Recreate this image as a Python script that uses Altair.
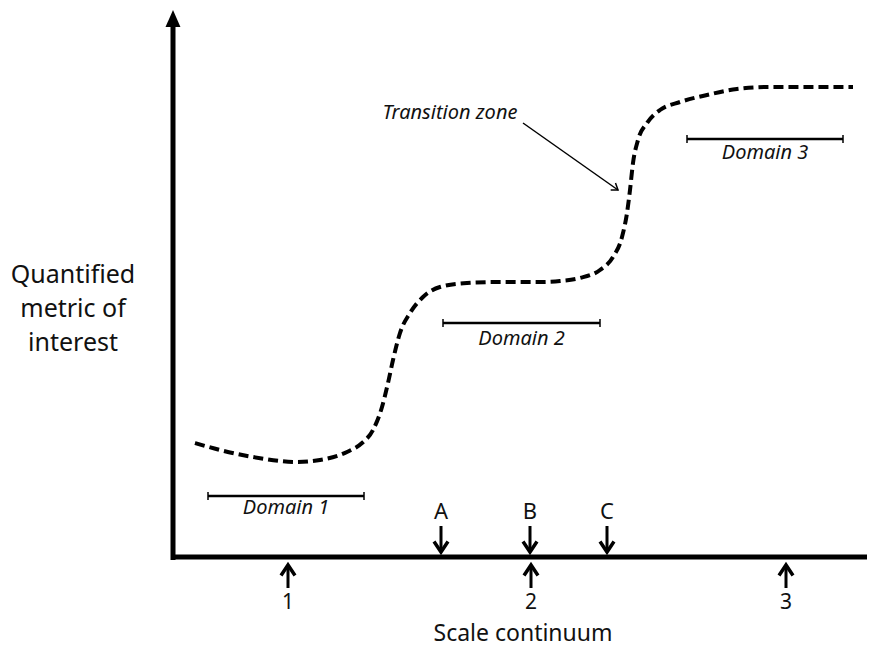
import altair as alt
import pandas as pd

# ---- data (units: position along the scale continuum / metric value, origin at axis corner)
curve_x = [21, 46, 79, 123, 146, 173, 188, 199, 208, 214, 219, 226, 236, 249, 266, 293, 326, 366,
           386, 406, 426, 439, 448, 453, 456, 459, 464, 473, 486, 506, 533, 563, 596, 636, 679]
curve_y = [114, 107, 100, 95, 97, 105, 114, 127, 150, 174, 197, 224, 244, 260, 270, 274, 275, 275,
           276, 279, 287, 300, 320, 344, 367, 394, 417, 434, 447, 455, 462, 468, 470, 470, 470]

domain_names = ["Domain 1", "Domain 2", "Domain 3"]
domain_start = [34, 269, 513]
domain_end = [190, 426, 669]
domain_level = [61, 234, 418]
domain_label_y = [49, 218, 404]

scale_labels = ["1", "2", "3"]
scale_pos = [114, 357, 612]

point_labels = ["A", "B", "C"]
point_pos = [267, 356, 433]

ylabel_lines = ["Quantified", "metric of", "interest"]
ylabel_y = [282, 248, 214]

FONT = "Noto Sans"
XS = alt.Scale(domain=[-166, 693], nice=False, zero=False)
YS = alt.Scale(domain=[-89, 549], nice=False, zero=False)


def X(f):
    return alt.X(f, type="quantitative", scale=XS, axis=None)


def Y(f):
    return alt.Y(f, type="quantitative", scale=YS, axis=None)


# curve
df_curve = pd.DataFrame({"x": curve_x, "y": curve_y})
curve = alt.Chart(df_curve).mark_line(
    color="black", strokeWidth=4, strokeDash=[10, 5], interpolate="monotone"
).encode(x=X("x"), y=Y("y"))

# axes
df_axes = pd.DataFrame({"x": [-1, -3], "y": [-3, 0], "x2": [-1, 695], "y2": [531, 0]})
axes = alt.Chart(df_axes).mark_rule(color="black", strokeWidth=5, strokeCap="butt").encode(
    x=X("x"), y=Y("y"), x2="x2", y2="y2"
)
df_heads = pd.DataFrame({
    "x": [-1, 703.5], "y": [538.5, 0],
    "path": ["M -0.88 1 L 0 -1 L 0.88 1 Z", "M -1 -0.88 L 1 0 L -1 0.88 Z"],
})
heads = alt.Chart(df_heads).mark_point(filled=True, color="black", size=289, opacity=1).encode(
    x=X("x"), y=Y("y"), shape=alt.Shape("path:N", scale=None)
)

# domain bars
df_dom = pd.DataFrame({
    "name": domain_names, "start": domain_start, "end": domain_end,
    "level": domain_level, "ly": domain_label_y,
})
df_dom["mid"] = (df_dom["start"] + df_dom["end"]) / 2
df_dom["lo"] = df_dom["level"] - 4
df_dom["hi"] = df_dom["level"] + 4
bars = alt.Chart(df_dom).mark_rule(color="black", strokeWidth=2.5).encode(
    x=X("start"), x2="end", y=Y("level")
)
ends_l = alt.Chart(df_dom).mark_rule(color="black", strokeWidth=1.5).encode(
    x=X("start"), y=Y("lo"), y2="hi"
)
ends_r = alt.Chart(df_dom).mark_rule(color="black", strokeWidth=1.5).encode(
    x=X("end"), y=Y("lo"), y2="hi"
)
dom_text = alt.Chart(df_dom).mark_text(
    font=FONT, fontSize=20, fontStyle="italic", color="#111", baseline="middle"
).encode(x=X("mid"), y=Y("ly"), text="name:N")

# transition zone annotation
df_tz = pd.DataFrame({"tx": [276], "ty": [444], "ax": [349], "ay": [434], "bx": [444], "by": [367],
                      "label": ["Transition zone"]})
tz_text = alt.Chart(df_tz).mark_text(
    font=FONT, fontSize=20, fontStyle="italic", color="#111", baseline="middle"
).encode(x=X("tx"), y=Y("ty"), text="label:N")
tz_line = alt.Chart(df_tz).mark_rule(color="black", strokeWidth=1.5).encode(
    x=X("ax"), y=Y("ay"), x2="bx", y2="by"
)
tz_head = alt.Chart(df_tz).mark_point(
    filled=False, color="black", strokeWidth=1.5, size=144, opacity=1, angle=35,
    shape="M -1 -0.7 L 0 0 L -1 0.7"
).encode(x=X("bx"), y=Y("by"))

# down arrows A, B, C
df_pts = pd.DataFrame({"label": point_labels, "x": point_pos})
df_pts["top"] = 31
df_pts["tip"] = 5
df_pts["ly"] = 45
down_shaft = alt.Chart(df_pts).mark_rule(color="black", strokeWidth=3).encode(
    x=X("x"), y=Y("top"), y2="tip"
)
down_head = alt.Chart(df_pts).mark_point(
    filled=False, color="black", strokeWidth=3.5, size=196, opacity=1,
    shape="M -1 -1.5 L 0 0 L 1 -1.5", strokeJoin="miter"
).encode(x=X("x"), y=Y("tip"))
pt_text = alt.Chart(df_pts).mark_text(
    font=FONT, fontSize=22, color="#111", baseline="middle"
).encode(x=X("x"), y=Y("ly"), text="label:N")

# up arrows 1, 2, 3
df_sc = pd.DataFrame({"label": scale_labels, "x": scale_pos})
df_sc["tip"] = -8
df_sc["bottom"] = -31
df_sc["ly"] = -46
up_shaft = alt.Chart(df_sc).mark_rule(color="black", strokeWidth=3).encode(
    x=X("x"), y=Y("tip"), y2="bottom"
)
up_head = alt.Chart(df_sc).mark_point(
    filled=False, color="black", strokeWidth=3.5, size=196, opacity=1,
    shape="M -1 1.5 L 0 0 L 1 1.5", strokeJoin="miter"
).encode(x=X("x"), y=Y("tip"))
sc_text = alt.Chart(df_sc).mark_text(
    font=FONT, fontSize=21, color="#111", baseline="middle"
).encode(x=X("x"), y=Y("ly"), text="label:N")

# axis titles
df_xt = pd.DataFrame({"x": [349], "y": [-88.5], "t": ["Scale continuum"]})
x_title = alt.Chart(df_xt).mark_text(
    font=FONT, fontSize=23, color="#111", baseline="bottom"
).encode(x=X("x"), y=Y("y"), text="t:N")
df_yt = pd.DataFrame({"x": [-101] * 3, "y": ylabel_y, "t": ylabel_lines})
y_title = alt.Chart(df_yt).mark_text(
    font=FONT, fontSize=25, color="#111", baseline="middle"
).encode(x=X("x"), y=Y("y"), text="t:N")

chart = alt.layer(
    curve, axes, heads, bars, ends_l, ends_r, dom_text, tz_text, tz_line, tz_head,
    down_shaft, down_head, pt_text, up_shaft, up_head, sc_text, x_title, y_title
).properties(
    width=859, height=638, padding=0, autosize=alt.AutoSizeParams(type="none"),
    background="white"
).configure_view(stroke=None)

chart.save("out.html", embed_options={"renderer": "svg", "actions": False})
